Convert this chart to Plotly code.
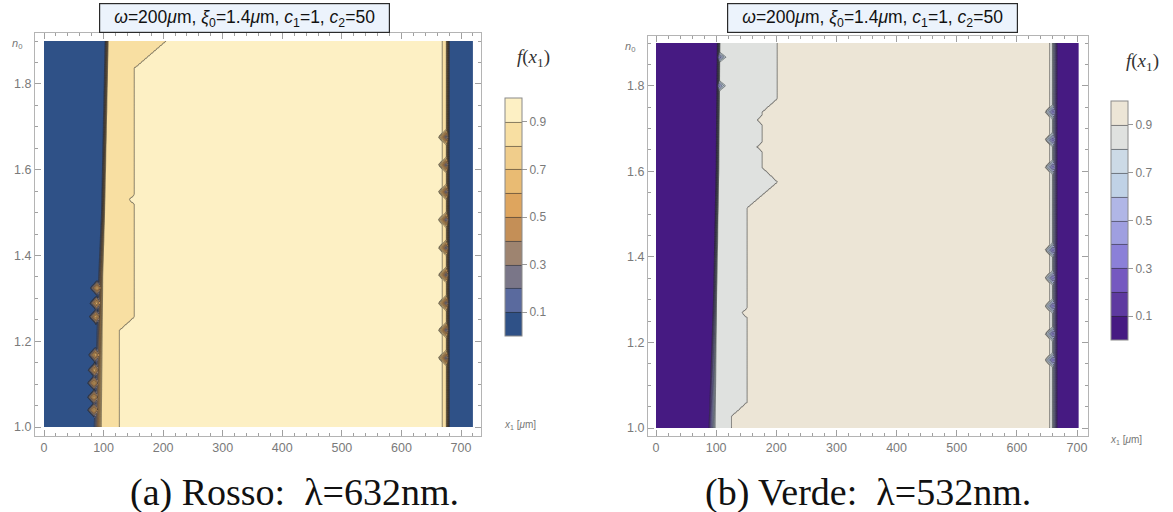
import numpy as np
import plotly.graph_objects as go

# ---------------- data ----------------
LEVEL_TICKS = [0.1, 0.3, 0.5, 0.7, 0.9]
X_TICKS = [0, 100, 200, 300, 400, 500, 600, 700]
Y_TICKS = [1.0, 1.2, 1.4, 1.6, 1.8]
N0_MIN, N0_MAX = 1.0, 1.9

# values of f in each region
F_OUT, F_BAND, F_IN = 0.02, 0.85, 0.95

# ---- panel (a) Rosso
A_XMAX = 720
A_left_n0 = [1.0, 1.35, 1.5, 1.9]
A_left_x = [90, 95, 99, 105]
A_left_w = [14, 8, 6, 6]
A_lspk_n0 = [1.04, 1.07, 1.103, 1.133, 1.168, 1.257, 1.289, 1.324]
A_lspk_x = [84, 84, 84, 85, 86, 87, 88, 89]
A_inner_n0 = [1.0, 1.226, 1.257, 1.837, 1.9]
A_inner_x = [127, 127, 152, 152, 205]
A_notch_n0 = [1.53]
A_rin_x = 669
A_right_n0 = [1.0, 1.9]
A_right_x = [678, 678]
A_right_w = [6, 6]
A_rspk_n0 = [1.161, 1.226, 1.289, 1.355, 1.418, 1.483, 1.548, 1.611, 1.676]

# ---- panel (b) Verde
B_XMAX = 703
B_left_n0 = [1.0, 1.3, 1.6, 1.9]
B_left_x = [93, 98, 102, 104]
B_left_w = [12, 6, 5, 5]
B_lspk_n0 = [1.8, 1.867]
B_inner_n0 = [1.0, 1.028, 1.061, 1.515, 1.575, 1.608, 1.739, 1.77, 1.9]
B_inner_x = [126, 126, 152, 152, 202, 177, 177, 202, 202]
B_notch_n0 = [1.269, 1.657, 1.72]
B_rin_x = 655
B_right_n0 = [1.0, 1.9]
B_right_x = [663, 663]
B_right_w = [9, 9]
B_rspk_n0 = [1.159, 1.22, 1.285, 1.351, 1.416, 1.61, 1.674, 1.739]

A_COLORS = ["#2f5187", "#5a6a9e", "#7a7688", "#9e8470", "#c48f57",
            "#dea55e", "#e9bb73", "#f0cd8b", "#f8dfa2", "#fdf0c4"]
B_COLORS = ["#461a82", "#5e3aa0", "#7559c0", "#8b80d8", "#9f9fe0",
            "#b0b6e6", "#c0d2e6", "#ccdae6", "#dfe1df", "#ece5d6"]

TITLE = "<i>ω</i>=200<i>μ</i>m, <i>ξ</i><sub>0</sub>=1.4<i>μ</i>m, <i>c</i><sub>1</sub>=1, <i>c</i><sub>2</sub>=50"
CAPTIONS = ["(a) Rosso:  λ=632nm.", "(b) Verde:  λ=532nm."]


def tri(n, c, h):
    return np.clip(1 - np.abs(n - c) / h, 0, None)


def build(xmax, left_n0, left_x, left_w, lspk_n0, lspk_x, inner_n0, inner_x,
          notch_n0, rin_x, right_n0, right_x, right_w, rspk_n0, spike_v):
    xg = np.arange(0, xmax + 1, 1.0)
    ng = np.linspace(N0_MIN, N0_MAX, 301)
    X, N = np.meshgrid(xg, ng)
    xl = np.interp(ng, left_n0, left_x)[:, None]
    wl = np.interp(ng, left_n0, left_w)[:, None]
    xr = np.interp(ng, right_n0, right_x)[:, None]
    wr = np.interp(ng, right_n0, right_w)[:, None]
    xi = np.interp(ng, inner_n0, inner_x)
    for c in notch_n0:
        xi = xi - 9 * tri(ng, c, 0.012)
    xi = xi[:, None]
    left = F_OUT + (F_BAND - F_OUT) * np.clip((X - xl) / wl + 0.5, 0, 1)
    right = F_OUT + (F_BAND - F_OUT) * np.clip((xr - X) / wr + 0.5, 0, 1)
    z = np.minimum(left, right)
    z = np.where((X >= xi) & (X < rin_x) & (z >= F_BAND - 1e-9), F_IN, z)
    # diamond-shaped artefacts on the edges
    if lspk_x is not None:
        for c, xc in zip(lspk_n0, lspk_x):
            d = np.abs(N - c) / 0.017 + np.abs(X - xc) / 11
            z = np.maximum(z, np.where(d < 1, 0.2 + 0.5 * (1 - d), -1))
    else:
        for c in lspk_n0:
            xc = np.interp(c, left_n0, left_x)
            d = np.abs(N - c) / 0.016 + np.abs(X - xc) / 14
            z = np.minimum(z, np.where(d < 1, F_BAND - (F_BAND - 0.35) * (1 - d), 9))
    for c in rspk_n0:
        xc = np.interp(c, right_n0, right_x) - 3
        d = np.abs(N - c) / 0.02 + np.abs(X - xc) / 13
        z = np.minimum(z, np.where(d < 1, F_BAND - (F_BAND - spike_v) * (1 - d), 9))
    return xg, ng, np.round(z, 3)


panels = [
    build(A_XMAX, A_left_n0, A_left_x, A_left_w, A_lspk_n0, A_lspk_x, A_inner_n0, A_inner_x,
          A_notch_n0, A_rin_x, A_right_n0, A_right_x, A_right_w, A_rspk_n0, 0.2),
    build(B_XMAX, B_left_n0, B_left_x, B_left_w, B_lspk_n0, None, B_inner_n0, B_inner_x,
          B_notch_n0, B_rin_x, B_right_n0, B_right_x, B_right_w, B_rspk_n0, 0.3),
]

W, H = 1173, 512
frames = [
    dict(fl=35, fr=481, ft=33, fb=436, x0=44, x700=461, y10=427, y19=41,
         cbx=505, cbt=98, cbb=336, fx=533, fy=58, lx=520, ly=425, cap=294, box=(99, 390)),
    dict(fl=648, fr=1088, ft=36, fb=436, x0=656, x700=1077, y10=428, y19=43,
         cbx=1111, cbt=101, cbb=340, fx=1142, fy=62, lx=1126, ly=440, cap=868, box=(727, 1018)),
]


def px(v):
    return v / W


def py(v):
    return 1 - v / H


fig = go.Figure()
annotations = []
for k, ((xg, ng, z), fr, cols) in enumerate(zip(panels, frames, [A_COLORS, B_COLORS])):
    sfx = "" if k == 0 else str(k + 1)
    cs = [[i / 9, c] for i, c in enumerate(cols)]
    fig.add_trace(go.Contour(
        x=xg, y=ng, z=z, xaxis="x" + sfx, yaxis="y" + sfx,
        colorscale=cs, zmin=0, zmax=1,
        contours=dict(start=0.1, end=0.9, size=0.1, coloring="fill", showlines=True),
        line=dict(color="rgba(40,40,40,0.62)", width=0.9, smoothing=0),
        hoverinfo="skip",
        colorbar=dict(
            x=px(fr["cbx"]), xanchor="left", xpad=0, ypad=0,
            y=py((fr["cbt"] + fr["cbb"]) / 2), yanchor="middle",
            len=fr["cbb"] - fr["cbt"], lenmode="pixels",
            thickness=17, thicknessmode="pixels",
            outlinecolor="#8a8a8a", outlinewidth=1,
            tickvals=LEVEL_TICKS, ticktext=[f"{v:.1f}" for v in LEVEL_TICKS],
            ticks="outside", ticklen=5, tickcolor="#999",
            tickfont=dict(family="Liberation Sans", size=12, color="#7a7a7a"),
        ),
    ))
    pxu = (fr["x700"] - fr["x0"]) / 700
    pyu = (fr["y10"] - fr["y19"]) / 0.9
    xr = [(fr["fl"] - fr["x0"]) / pxu, (fr["fr"] - fr["x0"]) / pxu]
    yr = [1.0 - (fr["fb"] - fr["y10"]) / pyu, 1.9 + (fr["y19"] - fr["ft"]) / pyu]
    axcommon = dict(showgrid=False, zeroline=False, showline=True, mirror="allticks",
                    linecolor="#b4b4b4", linewidth=1, ticks="inside", ticklen=6,
                    tickcolor="#a0a0a0", tickwidth=1, automargin=False,
                    tickfont=dict(family="Liberation Sans", size=12.5, color="#7a7a7a"))
    fig.layout["xaxis" + sfx] = dict(
        axcommon, domain=[px(fr["fl"]), px(fr["fr"])], range=xr, anchor="y" + sfx,
        tickvals=X_TICKS, minor=dict(dtick=20, tick0=0, ticks="inside", ticklen=3, tickcolor="#a0a0a0"))
    fig.layout["yaxis" + sfx] = dict(
        axcommon, domain=[py(fr["fb"]), py(fr["ft"])], range=yr, anchor="x" + sfx,
        tickvals=Y_TICKS, ticktext=[f"{v:.1f}" for v in Y_TICKS],
        minor=dict(dtick=0.05, tick0=1.0, ticks="inside", ticklen=3, tickcolor="#a0a0a0"))
    b0, b1 = fr["box"]
    annotations += [
        dict(text=TITLE, x=px((b0 + b1) / 2), y=py(17.5), xanchor="center", yanchor="middle",
             width=b1 - b0 - 4, height=26, bgcolor="#ecf3fc",
             bordercolor="#2a2a2a", borderwidth=1.2, borderpad=1,
             font=dict(family="Liberation Sans", size=17.5, color="#111")),
        dict(text="<i>n</i><sub>0</sub>", x=px(fr["fl"] - 18), y=py(fr["ft"] + 11),
             xanchor="center", yanchor="middle",
             font=dict(family="Liberation Sans", size=11, color="#777")),
        dict(text="<i>x</i><sub>1</sub> [<i>μ</i>m]", x=px(fr["lx"]), y=py(fr["ly"]),
             xanchor="center", yanchor="middle",
             font=dict(family="Liberation Sans", size=10, color="#777")),
        dict(text="<i>f</i>(<i>x</i><sub>1</sub>)", x=px(fr["fx"]), y=py(fr["fy"]),
             xanchor="center", yanchor="middle",
             font=dict(family="Liberation Serif", size=19, color="#333")),
        dict(text=CAPTIONS[k], x=px(fr["cap"]), y=py(492), xanchor="center", yanchor="middle",
             font=dict(family="Liberation Serif", size=38, color="#111")),
    ]
for a in annotations:
    a.update(xref="paper", yref="paper", showarrow=False)

fig.update_layout(width=W, height=H, margin=dict(l=0, r=0, t=0, b=0, autoexpand=False),
                  paper_bgcolor="white", plot_bgcolor="white",
                  annotations=annotations, showlegend=False)
# remove the page's default body margin so the figure sits at the window origin
fig.write_html("out.html", config={"displayModeBar": False},
               post_script="document.body.style.margin='0';document.body.style.overflow='hidden';")
